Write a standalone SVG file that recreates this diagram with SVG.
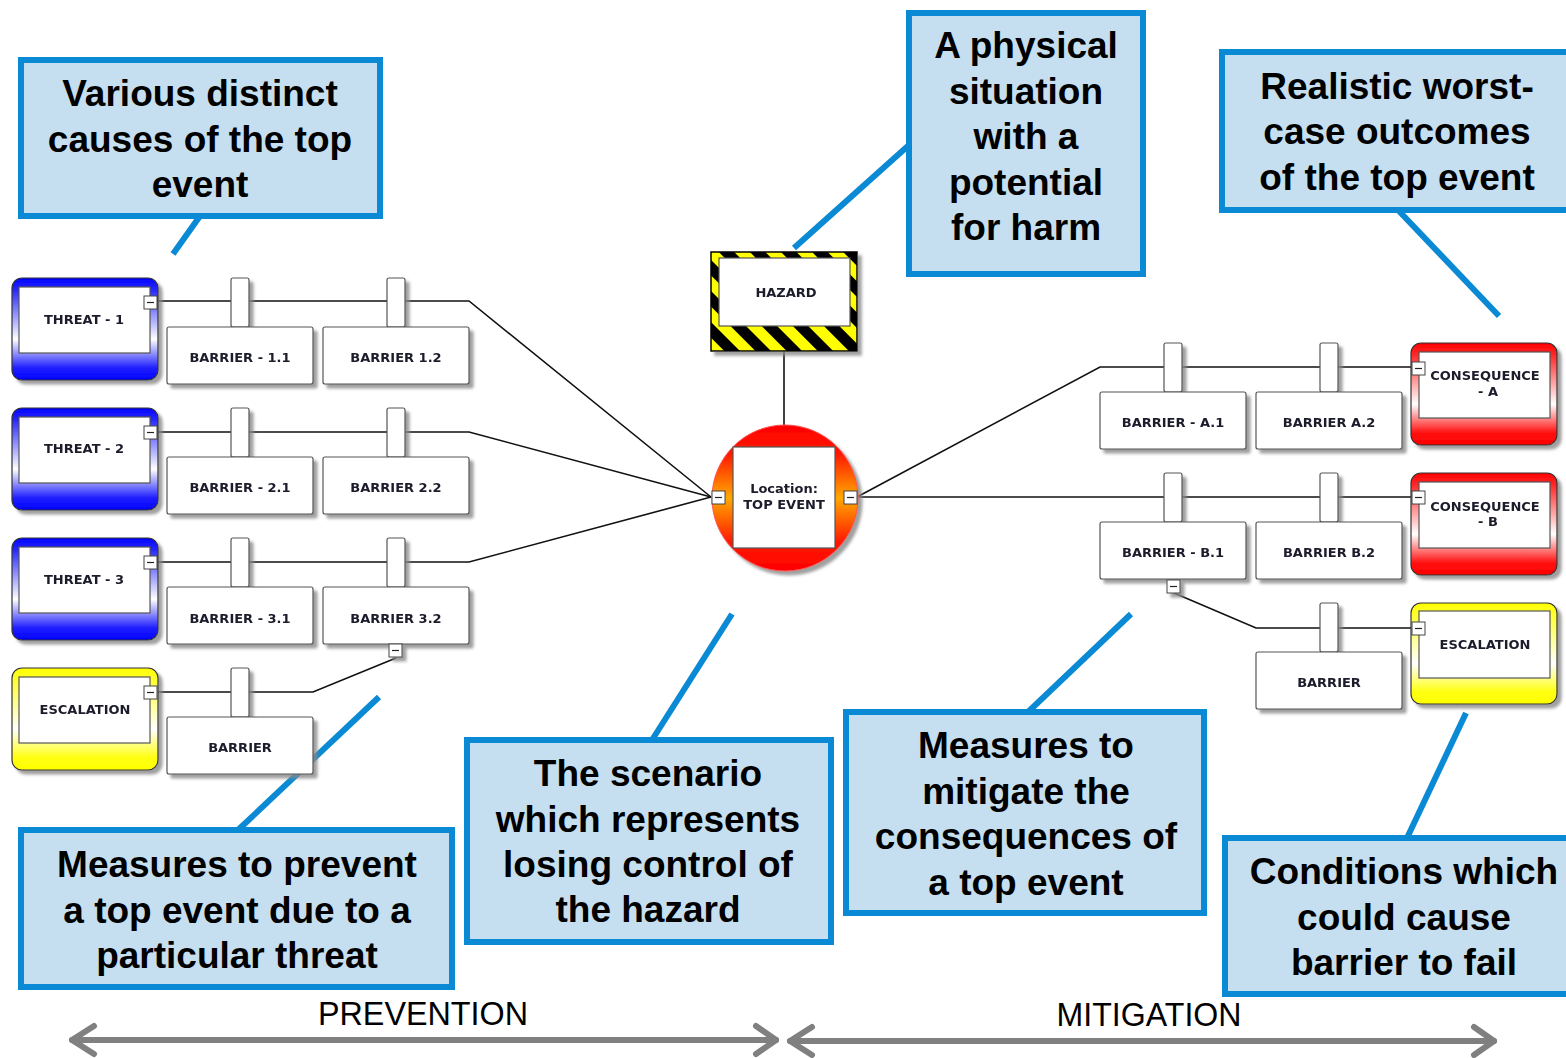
<svg xmlns="http://www.w3.org/2000/svg" width="1566" height="1058" viewBox="0 0 1566 1058">
<defs>
<style>
.callout{fill:#c5dff1;stroke:#0a8ad4;stroke-width:6}
.ct{font-family:"Liberation Sans",Arial,sans-serif;font-weight:bold;font-size:37px;fill:#000;text-anchor:middle}
.leader{stroke:#0a8ad4;stroke-width:6;fill:none}
.conn{stroke:#111;stroke-width:1.6;fill:none}
.box{fill:#fff;stroke:#555;stroke-width:1.2}
.inner{fill:#fff;stroke:#555;stroke-width:1.2}
.nt{font-family:"DejaVu Sans",Verdana,sans-serif;font-weight:bold;font-size:13px;fill:#1a1a2a;text-anchor:middle}
.cb{fill:#fff;stroke:#444;stroke-width:1}
.cbm{stroke:#222;stroke-width:1.2}
.outer{stroke:#333;stroke-width:1.2}
.arrow{stroke:#808080;stroke-width:6;fill:none;stroke-linecap:round;stroke-linejoin:round}
.lbl{font-family:"Liberation Sans",Arial,sans-serif;font-size:34px;fill:#000;text-anchor:middle}
</style>
<filter id="sh" x="-10%" y="-10%" width="130%" height="130%">
<feDropShadow dx="4" dy="4" stdDeviation="1.5" flood-color="#888" flood-opacity="0.8"/>
</filter>
<linearGradient id="gBlue" x1="0" y1="0" x2="0" y2="1">
<stop offset="0" stop-color="#0000ff"/><stop offset="0.12" stop-color="#2a2aff"/><stop offset="0.6" stop-color="#ffffff"/><stop offset="0.88" stop-color="#2020ff"/><stop offset="1" stop-color="#0000ff"/>
</linearGradient>
<linearGradient id="gRed" x1="0" y1="0" x2="0" y2="1">
<stop offset="0" stop-color="#ff0000"/><stop offset="0.12" stop-color="#ff2a2a"/><stop offset="0.6" stop-color="#ffffff"/><stop offset="0.88" stop-color="#ff1010"/><stop offset="1" stop-color="#ff0000"/>
</linearGradient>
<linearGradient id="gYel" x1="0" y1="0" x2="0" y2="1">
<stop offset="0" stop-color="#ffff00"/><stop offset="0.12" stop-color="#ffff30"/><stop offset="0.6" stop-color="#ffffff"/><stop offset="0.88" stop-color="#ffff10"/><stop offset="1" stop-color="#ffff00"/>
</linearGradient>
<linearGradient id="gTop" x1="0" y1="0" x2="0" y2="1">
<stop offset="0" stop-color="#ff0000"/><stop offset="0.2" stop-color="#ff1a00"/><stop offset="0.5" stop-color="#ffa800"/><stop offset="0.8" stop-color="#ff1a00"/><stop offset="1" stop-color="#ff0000"/>
</linearGradient>
<pattern id="stripes" patternUnits="userSpaceOnUse" width="22" height="22" patternTransform="rotate(-45)">
<rect width="22" height="22" fill="#ffff00"/><rect width="11" height="22" fill="#000"/>
</pattern>
</defs>
<rect width="1566" height="1058" fill="#fff"/>

<g id="connectors">
<polyline class="conn" points="158,301 469,301 711,497"/>
<polyline class="conn" points="158,432 469,432 711,497"/>
<polyline class="conn" points="158,562 469,562 711,497"/>
<polyline class="conn" points="158,692 313,692 396,658"/>
<line class="conn" x1="784" y1="351" x2="784" y2="425"/>
<polyline class="conn" points="857,497 1100,367 1412,367"/>
<polyline class="conn" points="857,497 1412,497"/>
<polyline class="conn" points="1174,593 1256,628 1412,628"/>
<line class="leader" x1="200" y1="216" x2="173" y2="254"/>
<line class="leader" x1="909" y1="145" x2="794" y2="248"/>
<line class="leader" x1="1398" y1="210" x2="1499" y2="316"/>
<line class="leader" x1="238" y1="830" x2="379" y2="697"/>
<line class="leader" x1="652" y1="740" x2="732" y2="614"/>
<line class="leader" x1="1028" y1="712" x2="1131" y2="614"/>
<line class="leader" x1="1407" y1="838" x2="1466" y2="713"/>
</g>

<!-- Threats -->
<g id="threat-1" filter="url(#sh)">
<rect class="outer" x="12" y="278" width="146" height="102" rx="10" fill="url(#gBlue)"/>
<rect class="inner" x="19" y="287" width="131" height="66"/>
<text class="nt" x="84" y="324">THREAT - 1</text>
<rect class="cb" x="144" y="296" width="13" height="13"/><line class="cbm" x1="147" y1="302.5" x2="154" y2="302.5"/>
</g>
<g id="threat-2" filter="url(#sh)">
<rect class="outer" x="12" y="408" width="146" height="102" rx="10" fill="url(#gBlue)"/>
<rect class="inner" x="19" y="417" width="131" height="66"/>
<text class="nt" x="84" y="453">THREAT - 2</text>
<rect class="cb" x="144" y="426" width="13" height="13"/><line class="cbm" x1="147" y1="432.5" x2="154" y2="432.5"/>
</g>
<g id="threat-3" filter="url(#sh)">
<rect class="outer" x="12" y="538" width="146" height="102" rx="10" fill="url(#gBlue)"/>
<rect class="inner" x="19" y="547" width="131" height="66"/>
<text class="nt" x="84" y="584">THREAT - 3</text>
<rect class="cb" x="144" y="556" width="13" height="13"/><line class="cbm" x1="147" y1="562.5" x2="154" y2="562.5"/>
</g>
<g id="escalation-left" filter="url(#sh)">
<rect class="outer" x="12" y="668" width="146" height="102" rx="10" fill="url(#gYel)"/>
<rect class="inner" x="19" y="677" width="131" height="66"/>
<text class="nt" x="85" y="714">ESCALATION</text>
<rect class="cb" x="144" y="686" width="13" height="13"/><line class="cbm" x1="147" y1="692.5" x2="154" y2="692.5"/>
</g>

<!-- Prevention barriers -->
<g id="barrier-1-1" filter="url(#sh)">
<rect class="box" x="231" y="278" width="18" height="49" rx="2"/>
<rect class="box" x="167" y="327" width="146" height="57" rx="2"/>
<text class="nt" x="240" y="362">BARRIER - 1.1</text>
</g>
<g id="barrier-1-2" filter="url(#sh)">
<rect class="box" x="387" y="278" width="18" height="49" rx="2"/>
<rect class="box" x="323" y="327" width="146" height="57" rx="2"/>
<text class="nt" x="396" y="362">BARRIER 1.2</text>
</g>
<g id="barrier-2-1" filter="url(#sh)">
<rect class="box" x="231" y="408" width="18" height="49" rx="2"/>
<rect class="box" x="167" y="457" width="146" height="57" rx="2"/>
<text class="nt" x="240" y="492">BARRIER - 2.1</text>
</g>
<g id="barrier-2-2" filter="url(#sh)">
<rect class="box" x="387" y="408" width="18" height="49" rx="2"/>
<rect class="box" x="323" y="457" width="146" height="57" rx="2"/>
<text class="nt" x="396" y="492">BARRIER 2.2</text>
</g>
<g id="barrier-3-1" filter="url(#sh)">
<rect class="box" x="231" y="538" width="18" height="49" rx="2"/>
<rect class="box" x="167" y="587" width="146" height="57" rx="2"/>
<text class="nt" x="240" y="623">BARRIER - 3.1</text>
</g>
<g id="barrier-3-2" filter="url(#sh)">
<rect class="box" x="387" y="538" width="18" height="49" rx="2"/>
<rect class="box" x="323" y="587" width="146" height="57" rx="2"/>
<text class="nt" x="396" y="623">BARRIER 3.2</text>
<rect class="cb" x="389" y="644" width="13" height="13"/><line class="cbm" x1="392" y1="650.5" x2="399" y2="650.5"/>
</g>
<g id="barrier-esc-left" filter="url(#sh)">
<rect class="box" x="231" y="668" width="18" height="49" rx="2"/>
<rect class="box" x="167" y="717" width="146" height="57" rx="2"/>
<text class="nt" x="240" y="752">BARRIER</text>
</g>

<!-- Hazard -->
<g id="hazard" filter="url(#sh)">
<rect x="711" y="252" width="146" height="99" fill="url(#stripes)" stroke="#000" stroke-width="1.5"/>
<rect class="inner" x="719" y="258" width="131" height="68"/>
<text class="nt" x="786" y="297">HAZARD</text>
</g>

<!-- Top event -->
<g id="top-event" filter="url(#sh)">
<circle cx="785" cy="498" r="73" fill="url(#gTop)" stroke="#ff5050" stroke-width="1"/>
<rect class="inner" x="733" y="447" width="102" height="101"/>
<text class="nt" x="784" y="493">Location:</text>
<text class="nt" x="784" y="509">TOP EVENT</text>
<rect class="cb" x="712" y="491" width="13" height="13"/><line class="cbm" x1="715" y1="497.5" x2="722" y2="497.5"/>
<rect class="cb" x="844" y="491" width="13" height="13"/><line class="cbm" x1="847" y1="497.5" x2="854" y2="497.5"/>
</g>

<!-- Mitigation barriers -->
<g id="barrier-a-1" filter="url(#sh)">
<rect class="box" x="1164" y="343" width="18" height="49" rx="2"/>
<rect class="box" x="1100" y="392" width="146" height="57" rx="2"/>
<text class="nt" x="1173" y="427">BARRIER - A.1</text>
</g>
<g id="barrier-a-2" filter="url(#sh)">
<rect class="box" x="1320" y="343" width="18" height="49" rx="2"/>
<rect class="box" x="1256" y="392" width="146" height="57" rx="2"/>
<text class="nt" x="1329" y="427">BARRIER A.2</text>
</g>
<g id="barrier-b-1" filter="url(#sh)">
<rect class="box" x="1164" y="473" width="18" height="49" rx="2"/>
<rect class="box" x="1100" y="522" width="146" height="57" rx="2"/>
<text class="nt" x="1173" y="557">BARRIER - B.1</text>
<rect class="cb" x="1167" y="580" width="13" height="13"/><line class="cbm" x1="1170" y1="586.5" x2="1177" y2="586.5"/>
</g>
<g id="barrier-b-2" filter="url(#sh)">
<rect class="box" x="1320" y="473" width="18" height="49" rx="2"/>
<rect class="box" x="1256" y="522" width="146" height="57" rx="2"/>
<text class="nt" x="1329" y="557">BARRIER B.2</text>
</g>
<g id="barrier-esc-right" filter="url(#sh)">
<rect class="box" x="1320" y="603" width="18" height="49" rx="2"/>
<rect class="box" x="1256" y="652" width="146" height="57" rx="2"/>
<text class="nt" x="1329" y="687">BARRIER</text>
</g>

<!-- Consequences -->
<g id="consequence-a" filter="url(#sh)">
<rect class="outer" x="1411" y="343" width="146" height="102" rx="10" fill="url(#gRed)"/>
<rect class="inner" x="1419" y="352" width="131" height="66"/>
<text class="nt" x="1485" y="380">CONSEQUENCE</text>
<text class="nt" x="1488" y="396">- A</text>
<rect class="cb" x="1412" y="362" width="13" height="13"/><line class="cbm" x1="1415" y1="368.5" x2="1422" y2="368.5"/>
</g>
<g id="consequence-b" filter="url(#sh)">
<rect class="outer" x="1411" y="473" width="146" height="102" rx="10" fill="url(#gRed)"/>
<rect class="inner" x="1419" y="482" width="131" height="66"/>
<text class="nt" x="1485" y="511">CONSEQUENCE</text>
<text class="nt" x="1488" y="526">- B</text>
<rect class="cb" x="1412" y="491" width="13" height="13"/><line class="cbm" x1="1415" y1="497.5" x2="1422" y2="497.5"/>
</g>
<g id="escalation-right" filter="url(#sh)">
<rect class="outer" x="1411" y="603" width="146" height="101" rx="10" fill="url(#gYel)"/>
<rect class="inner" x="1419" y="611" width="131" height="67"/>
<text class="nt" x="1485" y="649">ESCALATION</text>
<rect class="cb" x="1412" y="622" width="13" height="13"/><line class="cbm" x1="1415" y1="628.5" x2="1422" y2="628.5"/>
</g>

<!-- Callouts -->
<g id="callout-causes">
<rect class="callout" x="21" y="60" width="359" height="156"/>
<text class="ct" x="200" y="106">Various distinct</text>
<text class="ct" x="200" y="152">causes of the top</text>
<text class="ct" x="200" y="197">event</text>
</g>
<g id="callout-hazard">
<rect class="callout" x="909" y="13" width="234" height="261"/>
<text class="ct" x="1026" y="58">A physical</text>
<text class="ct" x="1026" y="104">situation</text>
<text class="ct" x="1026" y="149">with a</text>
<text class="ct" x="1026" y="195">potential</text>
<text class="ct" x="1026" y="240">for harm</text>
</g>
<g id="callout-outcomes">
<rect class="callout" x="1222" y="52" width="350" height="158"/>
<text class="ct" x="1397" y="99">Realistic worst-</text>
<text class="ct" x="1397" y="144">case outcomes</text>
<text class="ct" x="1397" y="190">of the top event</text>
</g>
<g id="callout-prevent">
<rect class="callout" x="21" y="830" width="431" height="157"/>
<text class="ct" x="237" y="877">Measures to prevent</text>
<text class="ct" x="237" y="923">a top event due to a</text>
<text class="ct" x="237" y="968">particular threat</text>
</g>
<g id="callout-scenario">
<rect class="callout" x="467" y="740" width="364" height="202"/>
<text class="ct" x="648" y="786">The scenario</text>
<text class="ct" x="648" y="832">which represents</text>
<text class="ct" x="648" y="877">losing control of</text>
<text class="ct" x="648" y="922">the hazard</text>
</g>
<g id="callout-mitigate">
<rect class="callout" x="846" y="712" width="358" height="201"/>
<text class="ct" x="1026" y="758">Measures to</text>
<text class="ct" x="1026" y="804">mitigate the</text>
<text class="ct" x="1026" y="849">consequences of</text>
<text class="ct" x="1026" y="895">a top event</text>
</g>
<g id="callout-conditions">
<rect class="callout" x="1225" y="838" width="347" height="156"/>
<text class="ct" x="1404" y="884">Conditions which</text>
<text class="ct" x="1404" y="930">could cause</text>
<text class="ct" x="1404" y="975">barrier to fail</text>
</g>

<!-- Bottom arrows -->
<g id="prevention-arrow">
<line class="arrow" x1="72" y1="1040" x2="776" y2="1040"/>
<polyline class="arrow" points="94,1026 72,1040 94,1054"/>
<polyline class="arrow" points="756,1026 776,1040 756,1054"/>
<text class="lbl" x="423" y="1025" textLength="210" lengthAdjust="spacingAndGlyphs">PREVENTION</text>
</g>
<g id="mitigation-arrow">
<line class="arrow" x1="790" y1="1041" x2="1494" y2="1041"/>
<polyline class="arrow" points="812,1027 790,1041 812,1055"/>
<polyline class="arrow" points="1474,1027 1494,1041 1474,1055"/>
<text class="lbl" x="1149" y="1026" textLength="185" lengthAdjust="spacingAndGlyphs">MITIGATION</text>
</g>
</svg>
